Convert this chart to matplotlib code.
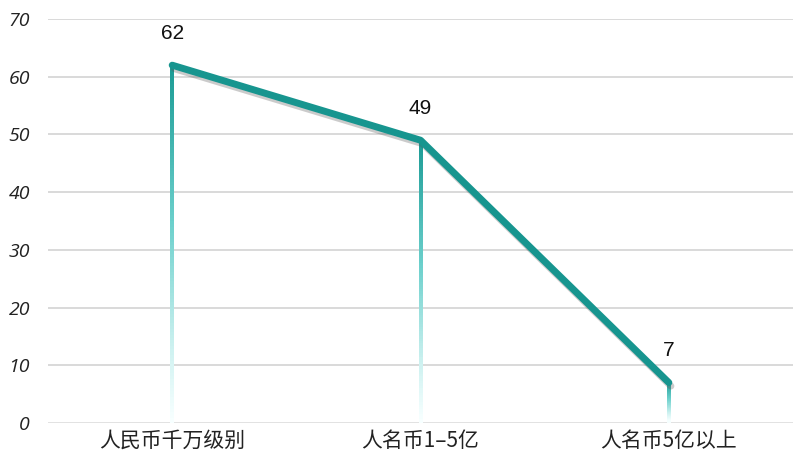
import numpy as np
import matplotlib
matplotlib.use("Agg")
import matplotlib.pyplot as plt
import matplotlib.patheffects as pe
from matplotlib.collections import LineCollection
from matplotlib.colors import LinearSegmentedColormap

plt.rcParams['font.family'] = ['Noto Sans CJK SC', 'DejaVu Sans']

categories = ["人民币千万级别", "人名币1–5亿", "人名币5亿以上"]
values = [62, 49, 7]
y_ticks = [0, 10, 20, 30, 40, 50, 60, 70]

line_color = "#17958f"
drop_cmap = LinearSegmentedColormap.from_list(
    "drop", [(0.0, "#1a9a94"), (0.45, "#6cd0cc"), (0.8, "#cdf1f0"), (1.0, "#f7ffff")])

fig = plt.figure(figsize=(8.1, 4.73), dpi=100)
ax = fig.add_axes([0.0593, 0.1057, 0.9197, 0.8541])

x = np.arange(len(categories))
ax.set_xlim(-0.5, len(categories) - 0.5)
ax.set_ylim(0, 70)

# horizontal grid
for t in y_ticks:
    ax.axhline(t, color="#d9d9d9", lw=1.4 if t else 1.8, zorder=0)

# gradient drop lines from each point to the baseline
n = 120
for xi, v in zip(x, values):
    ys = np.linspace(v, 0, n + 1)
    segs = [[(xi, ys[i]), (xi, ys[i + 1])] for i in range(n)]
    cols = drop_cmap(np.linspace(0, 1, n))
    ax.add_collection(LineCollection(segs, colors=cols, linewidths=1.5,
                                     capstyle="projecting", antialiased=False,
                                     zorder=2))

# main line with soft shadow
ax.plot(x, values, color=line_color, lw=5, solid_capstyle="round",
        solid_joinstyle="round", zorder=3,
        path_effects=[pe.SimpleLineShadow(offset=(1.5, -2.5), shadow_color="#555555", alpha=0.3),
                      pe.Normal()])

for xi, v in zip(x, values):
    ax.annotate(str(v), (xi, v), xytext=(0, 16), textcoords="offset points",
                ha="center", va="bottom", fontsize=15, color="#111111",
                family=["Liberation Sans", "DejaVu Sans"])

ax.set_xticks(x)
ax.set_xticklabels(categories, fontsize=15, color="#222222")
ax.set_yticks(y_ticks)
ax.set_yticklabels([str(t) for t in y_ticks], fontsize=14, color="#222222",
                   style="italic", family=["Open Sans", "DejaVu Sans"])
ax.tick_params(axis="both", length=0)
ax.tick_params(axis="y", pad=13)
ax.tick_params(axis="x", pad=5)
for s in ax.spines.values():
    s.set_visible(False)

fig.savefig("out.png", dpi=100, facecolor="white")
